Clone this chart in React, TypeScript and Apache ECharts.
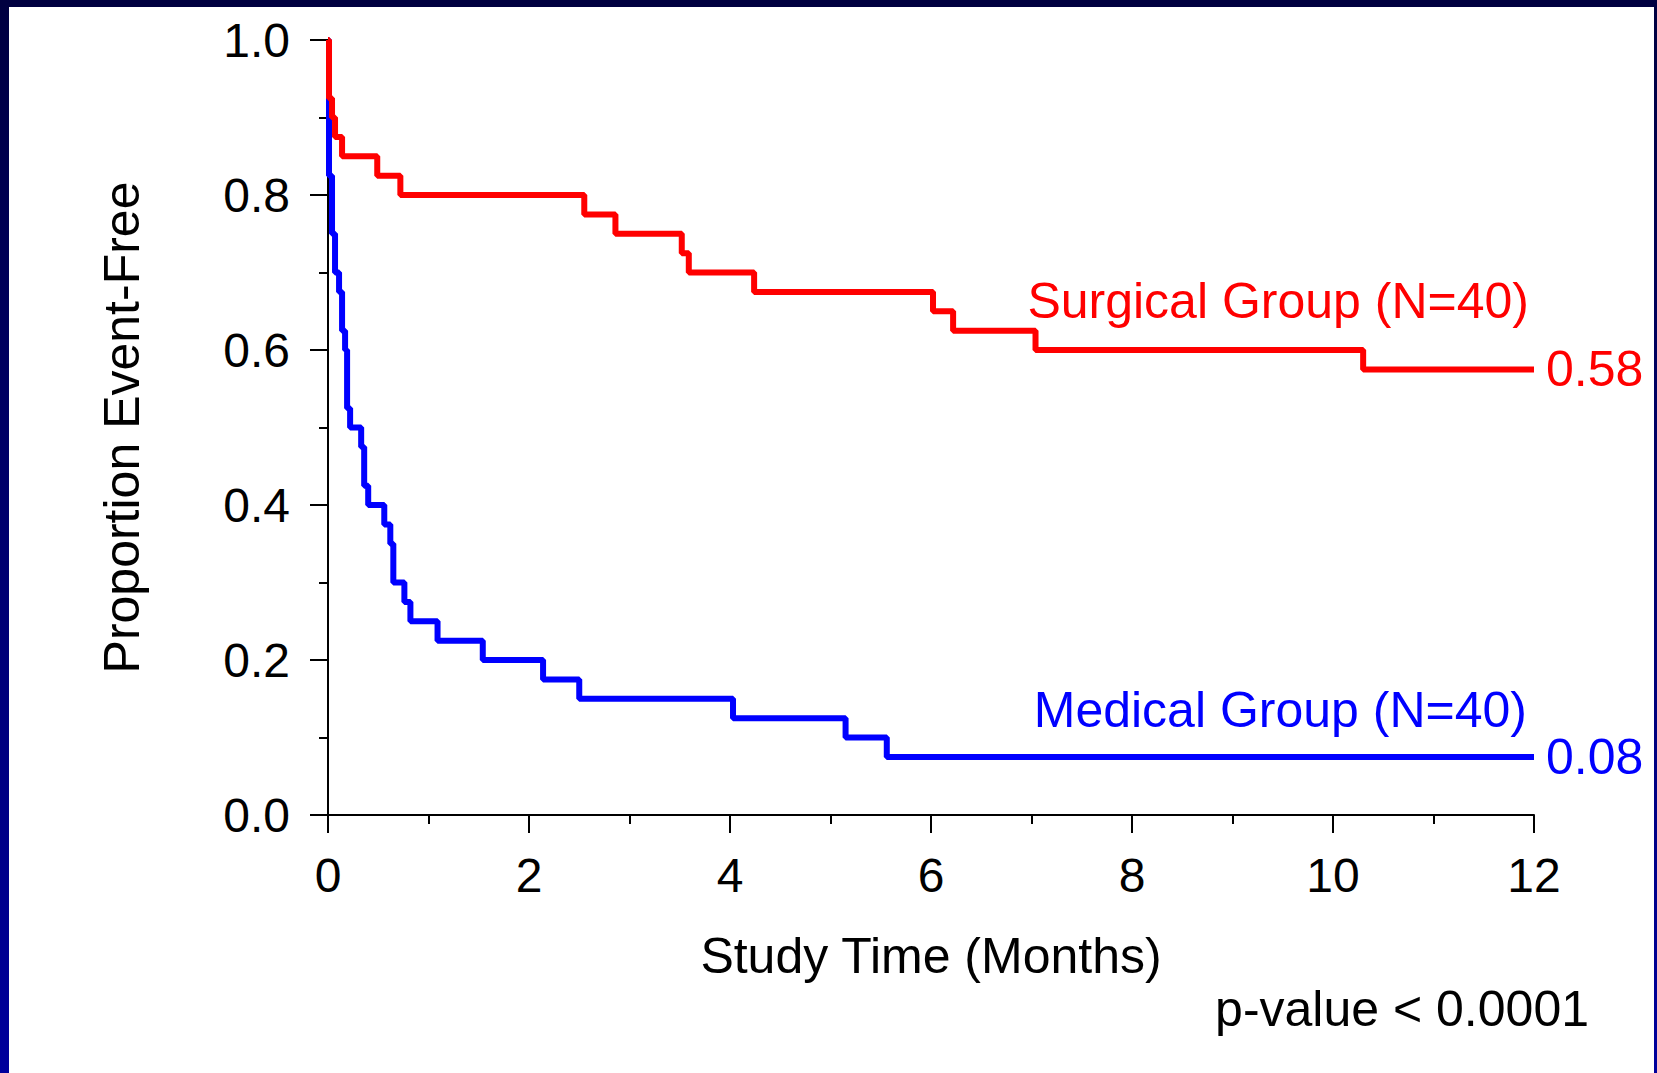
import React, { useEffect, useRef } from "react";
import * as echarts from "echarts";

// Kaplan-Meier step data (time in months, proportion event-free)
const surgicalTimes = [0, 0.01, 0.04, 0.07, 0.14, 0.49, 0.72, 2.55, 2.86, 3.52, 3.59, 4.24, 6.02, 6.22, 7.04, 10.3, 12.0];
const surgicalValues = [1.0, 0.925, 0.9, 0.875, 0.85, 0.825, 0.8, 0.775, 0.75, 0.725, 0.7, 0.675, 0.65, 0.625, 0.6, 0.575, 0.575];

const medicalTimes = [0, 0.01, 0.04, 0.07, 0.11, 0.14, 0.17, 0.19, 0.22, 0.33, 0.36, 0.4, 0.56, 0.62, 0.65, 0.76, 0.82, 1.09, 1.54, 2.14, 2.5, 4.03, 5.15, 5.56, 12.0];
const medicalValues = [1.0, 0.825, 0.75, 0.7, 0.675, 0.625, 0.6, 0.525, 0.5, 0.475, 0.425, 0.4, 0.375, 0.35, 0.3, 0.275, 0.25, 0.225, 0.2, 0.175, 0.15, 0.125, 0.1, 0.075, 0.075];

const seriesNames = ["Medical Group (N=40)", "Surgical Group (N=40)"];
const seriesColors = ["#0000FF", "#FF0000"];

const xAxisTitle = "Study Time (Months)";
const yAxisTitle = "Proportion Event-Free";
const pValueText = "p-value < 0.0001";

const FONT = "'Liberation Sans', Arial, Helvetica, sans-serif";
const FS_TICK = 48;
const FS = 50;

function zip(t: number[], v: number[]) {
  return t.map((x, i) => [x, v[i]]);
}

export default function App() {
  const ref = useRef<HTMLDivElement>(null);

  useEffect(() => {
    document.body.style.margin = "0";
    document.body.style.overflow = "hidden";
    const chart = echarts.init(ref.current!, null, { renderer: "svg" });

    const endLabel = (color: string) => ({
      show: true,
      color,
      fontSize: FS,
      fontFamily: FONT,
      distance: 12,
      formatter: (p: any) => (p.value[1] + 1e-9).toFixed(2),
    });

    const option: any = {
      animation: false,
      backgroundColor: "transparent",
      textStyle: { fontFamily: FONT },
      grid: { left: 328, top: 40, width: 1206, height: 775 },
      xAxis: {
        type: "value",
        min: 0,
        max: 12,
        interval: 2,
        name: xAxisTitle,
        nameLocation: "middle",
        nameGap: 116,
        nameTextStyle: { color: "#000", fontSize: FS, fontFamily: FONT },
        axisLine: { show: true, onZero: false, lineStyle: { color: "#000", width: 2 } },
        axisTick: { show: true, inside: false, length: 18, lineStyle: { color: "#000", width: 2 } },
        minorTick: { show: true, splitNumber: 2, length: 9, lineStyle: { color: "#000", width: 2 } },
        axisLabel: { color: "#000", fontSize: FS_TICK, fontFamily: FONT, margin: 36 },
        splitLine: { show: false },
        minorSplitLine: { show: false },
      },
      yAxis: {
        type: "value",
        min: 0,
        max: 1,
        interval: 0.2,
        name: yAxisTitle,
        nameLocation: "middle",
        nameGap: 181,
        nameTextStyle: { color: "#000", fontSize: FS, fontFamily: FONT },
        axisLine: { show: true, onZero: false, lineStyle: { color: "#000", width: 2 } },
        axisTick: { show: true, inside: false, length: 18, lineStyle: { color: "#000", width: 2 } },
        minorTick: { show: true, splitNumber: 2, length: 9, lineStyle: { color: "#000", width: 2 } },
        axisLabel: {
          color: "#000",
          fontSize: FS_TICK,
          fontFamily: FONT,
          margin: 38,
          formatter: (v: number) => v.toFixed(1),
        },
        splitLine: { show: false },
        minorSplitLine: { show: false },
      },
      series: [
        {
          name: seriesNames[0],
          type: "line",
          step: "end",
          data: zip(medicalTimes, medicalValues),
          showSymbol: false,
          symbol: "none",
          lineStyle: { color: seriesColors[0], width: 6 },
          endLabel: endLabel(seriesColors[0]),
          z: 3,
        },
        {
          name: seriesNames[1],
          type: "line",
          step: "end",
          data: zip(surgicalTimes, surgicalValues),
          showSymbol: false,
          symbol: "none",
          lineStyle: { color: seriesColors[1], width: 6 },
          endLabel: endLabel(seriesColors[1]),
          z: 4,
        },
      ],
      graphic: [
        {
          type: "rect",
          z: -100,
          silent: true,
          shape: { x: 0, y: 0, width: 1657, height: 1073 },
          style: {
            fill: new echarts.graphic.LinearGradient(0, 0, 0, 1, [
              { offset: 0, color: "#000040" },
              { offset: 1, color: "#00009C" },
            ]),
          },
        },
        {
          type: "rect",
          z: -99,
          silent: true,
          shape: { x: 9, y: 7, width: 1645, height: 1066 },
          style: { fill: "#FFFFFF" },
        },
        {
          type: "text",
          z: 10,
          x: 1529,
          y: 301,
          style: {
            text: seriesNames[1],
            fill: seriesColors[1],
            fontSize: FS,
            fontFamily: FONT,
            align: "right",
            verticalAlign: "middle",
          },
        },
        {
          type: "text",
          z: 10,
          x: 1527,
          y: 710,
          style: {
            text: seriesNames[0],
            fill: seriesColors[0],
            fontSize: FS,
            fontFamily: FONT,
            align: "right",
            verticalAlign: "middle",
          },
        },
        {
          type: "text",
          z: 10,
          x: 1589,
          y: 1009,
          style: {
            text: pValueText,
            fill: "#000",
            fontSize: FS,
            fontFamily: FONT,
            align: "right",
            verticalAlign: "middle",
          },
        },
      ],
    };

    chart.setOption(option);
    return () => chart.dispose();
  }, []);

  return (
    <div
      ref={ref}
      style={{ position: "absolute", left: 0, top: 0, width: 1657, height: 1073 }}
    />
  );
}
